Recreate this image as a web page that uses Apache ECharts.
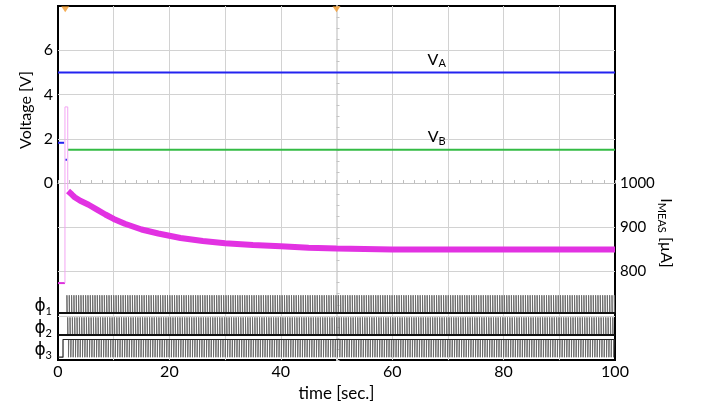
<!DOCTYPE html>
<html>
<head>
<meta charset="utf-8">
<script src="https://cdn.jsdelivr.net/npm/echarts@6/dist/echarts.min.js"></script>
<style>
html,body{margin:0;padding:0;background:#fff;}
#chart{width:705px;height:407px;}
</style>
</head>
<body>
<div id="chart"></div>
<script>
// ---- data ----
var voltLabels = [0, 2, 4, 6];
var currLabels = [800, 900, 1000];

// voltages  [t (s), V]
var vaLine   = [[0, 5.0], [100, 5.0]];
var vbLine   = [[1.8, 1.5], [100, 1.5]];
var vbPre    = [[0, 1.82], [1.1, 1.82]];
var vbGlitch = [[1.3, 1.05], [1.6, 1.05]];

// measured current [t, uA]
var iPre   = [[0, 774], [1.25, 774]];
var iSpike = [[1.25, 774], [1.25, 1172], [1.75, 1172], [1.75, 985]];
var decayT = [1.8, 2.5, 3, 4, 5.5, 7, 8.5, 10, 12, 15, 18, 22, 26, 30, 35, 40, 45, 50, 55, 60, 70, 80, 90, 100];
var decayI = [982, 974, 968, 960, 951, 940, 929, 919, 908, 895, 886, 876, 869, 864, 860, 857, 854, 852, 851, 850, 850, 850, 850, 850];

// clock phases (levels on a hidden 0..16 axis)
var phiNames  = ['1', '2', '3'];
var phiBase   = [2.13, 1.13, 0.13];
var phiAmp    = 0.8;
var clkStart  = [1.6, 1.74, 1.88];
var clkPeriod = 0.42;
var clkWidth  = 0.06;
var phi3Rise  = 0.9;

var triggers = [[1.3, 7.85], [50, 7.85]];

// ---- build ----
var decay = decayT.map(function (t, i) { return [t, decayI[i]]; });

function clock(base, start, invert) {
  var hi = base + phiAmp, pts = [];
  for (var k = 0; start + k * clkPeriod < 100; k++) {
    var t = start + k * clkPeriod;
    if (invert) pts.push([t, hi], [t, base], [t + clkWidth, base], [t + clkWidth, hi]);
    else pts.push([t, base], [t, hi], [t + clkWidth, hi], [t + clkWidth, base]);
  }
  return pts;
}

var FONT = 'Lato';
var rich = {
  m: { fontSize: 16, fontFamily: FONT, color: '#000', lineHeight: 20 },
  s: { fontSize: 11, fontFamily: FONT, color: '#000', lineHeight: 10, verticalAlign: 'bottom' },
  p: { fontSize: 17, fontFamily: 'DejaVu Sans', color: '#000', lineHeight: 20 }
};

function lineS(data, color, width, yIdx, extra) {
  var s = {
    type: 'line', data: data, yAxisIndex: yIdx, showSymbol: false, symbol: 'none',
    animation: false, silent: true,
    lineStyle: { color: color, width: width }
  };
  for (var k in extra) s[k] = extra[k];
  return s;
}

var series = [];

// phase signals
phiBase.forEach(function (b, i) {
  var inv = i === 2;
  series.push(lineS(clock(b, clkStart[i], inv), '#6a6a6a', 1, 2));
  var lvl = inv ? [[0, b], [phi3Rise, b], [phi3Rise, b + phiAmp], [100, b + phiAmp]] : [[0, b], [100, b]];
  series.push(lineS(lvl, inv ? '#222' : '#111', inv ? 1.2 : 2, 2, {
    markPoint: {
      symbol: 'circle', symbolSize: 0, silent: true, animation: false,
      data: [{
        coord: [0, b + phiAmp / 2 - 0.12],
        label: { show: true, position: 'left', distance: 6, formatter: '{p|ϕ}{s|' + phiNames[i] + '}', rich: rich }
      }]
    }
  }));
});

// voltages
series.push(lineS(vaLine, '#2323f0', 2, 0, {
  markPoint: {
    symbol: 'circle', symbolSize: 0, silent: true, animation: false,
    data: [{ coord: [68, 5], label: { show: true, position: 'top', distance: 3, formatter: '{m|V}{s|A}', rich: rich } }]
  }
}));
series.push(lineS(vbLine, '#33bb44', 2, 0, {
  markPoint: {
    symbol: 'circle', symbolSize: 0, silent: true, animation: false,
    data: [{ coord: [68, 1.5], label: { show: true, position: 'top', distance: 3, formatter: '{m|V}{s|B}', rich: rich } }]
  }
}));
series.push(lineS(vbPre, '#2323f0', 2, 0));
series.push(lineS(vbGlitch, '#2323f0', 2, 0));

// current
series.push(lineS(iPre, '#dd33dd', 2, 1));
series.push(lineS(iSpike, '#f3a6f3', 1, 1));
series.push(lineS(decay, '#e232e2', 6, 1));

// trigger marks
series.push({
  type: 'scatter', data: triggers, yAxisIndex: 0, symbol: 'triangle', symbolRotate: 180,
  symbolSize: [8, 6], itemStyle: { color: '#f39a2c' }, silent: true, animation: false, z: 5
});

var chart = echarts.init(document.getElementById('chart'));
chart.setOption({
  animation: false,
  grid: { left: 58, right: 90, top: 6, bottom: 45, show: true, borderColor: '#000', borderWidth: 2, backgroundColor: 'transparent' },
  xAxis: [{
    type: 'value', min: 0, max: 100, interval: 10,
    axisLine: { show: false, onZero: false }, axisTick: { show: false },
    axisLabel: { fontSize: 16, fontFamily: FONT, color: '#000', margin: 4,
      formatter: function (v) { return v % 20 === 0 ? String(v) : ''; } },
    splitLine: { show: true, showMinLine: false, showMaxLine: false, lineStyle: { color: '#d2d2d2', width: 1 } },
    name: 'time [sec.]', nameLocation: 'middle', nameGap: 22,
    nameTextStyle: { fontSize: 17, fontFamily: FONT, color: '#000' }
  }, {
    // centre graticule line at 0 V (small ticks)
    type: 'value', min: 0, max: 100, interval: 2, position: 'bottom',
    axisLine: { show: true, onZero: true, onZeroAxisIndex: 0, lineStyle: { color: '#c4c4c4', width: 1 } },
    axisTick: { show: true, inside: true, length: 3, lineStyle: { color: '#bdbdbd' } },
    axisLabel: { show: false }, splitLine: { show: false }
  }, {
    type: 'value', min: -50, max: 50, show: false
  }],
  yAxis: [{
    type: 'value', min: -8, max: 8, interval: 2, position: 'left',
    axisLine: { show: false }, axisTick: { show: false },
    axisLabel: { fontSize: 16, fontFamily: FONT, color: '#000', margin: 5,
      formatter: function (v) { return voltLabels.indexOf(v) >= 0 ? String(v) : ''; } },
    splitLine: { show: true, showMinLine: false, showMaxLine: false, lineStyle: { color: '#d2d2d2', width: 1 } }
  }, {
    type: 'value', min: 600, max: 1400, interval: 100, position: 'right',
    axisLine: { show: false }, axisTick: { show: false }, splitLine: { show: false },
    axisLabel: { fontSize: 15, fontFamily: FONT, color: '#000', margin: 5,
      formatter: function (v) { return currLabels.indexOf(v) >= 0 ? String(v) : ''; } }
  }, {
    type: 'value', min: 0, max: 16, show: false
  }, {
    // centre graticule line at 50 s (small ticks)
    type: 'value', min: -8, max: 8, interval: 0.5, position: 'left',
    axisLine: { show: true, onZero: true, onZeroAxisIndex: 2, lineStyle: { color: '#dcdcdc', width: 2 } },
    axisTick: { show: true, inside: true, length: 3, lineStyle: { color: '#c4c4c4' } },
    axisLabel: { show: false }, splitLine: { show: false }
  }],
  graphic: [{
    type: 'text', x: 26, y: 110, rotation: Math.PI / 2,
    style: { text: 'Voltage [V]', font: '16px Lato', fill: '#000', align: 'center', verticalAlign: 'middle' }
  }, {
    type: 'text', x: 666, y: 233, rotation: -Math.PI / 2,
    style: { text: '{m|I}{s|MEAS}{m| [µA]}', rich: rich, align: 'center', verticalAlign: 'middle' }
  }],
  series: series
});
</script>
</body>
</html>
